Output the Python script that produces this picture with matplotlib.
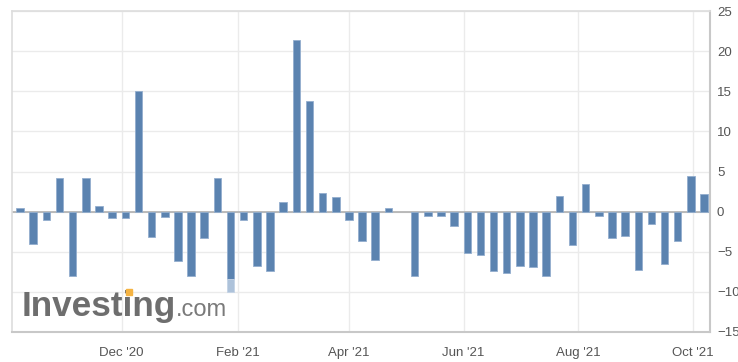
import datetime as dt
import numpy as np
import matplotlib
matplotlib.use("Agg")
import matplotlib.pyplot as plt
import matplotlib.dates as mdates
from matplotlib.patches import Rectangle

plt.rcParams['font.family'] = ['Liberation Sans', 'DejaVu Sans']

# ---- data ----
start_date = dt.date(2020, 10, 8)
values = [0.4, -4.0, -1.1, 4.2, -8.0, 4.2, 0.7, -0.8, -0.8, 15.0,
          -3.2, -0.7, -6.1, -8.0, -3.3, 4.2, -8.4, -1.1, -6.8, -7.4,
          1.2, 21.4, 13.8, 2.3, 1.8, -1.0, -3.6, -6.0, 0.4, np.nan,
          -8.0, -0.5, -0.5, -1.8, -5.2, -5.4, -7.4, -7.7, -6.8, -6.9,
          -8.0, 1.9, -4.1, 3.5, -0.5, -3.3, -3.0, -7.3, -1.6, -6.5,
          -3.6, 4.5, 2.2]
dates = [start_date + dt.timedelta(weeks=i) for i in range(len(values))]
# highlighted (lighter) extension of one bar
highlight_date = dt.date(2021, 1, 28)
highlight_low = -10.0
tick_dates = [dt.date(2020, 12, 1), dt.date(2021, 2, 1), dt.date(2021, 4, 1),
              dt.date(2021, 6, 1), dt.date(2021, 8, 1), dt.date(2021, 10, 1)]
tick_labels = ["Dec '20", "Feb '21", "Apr '21", "Jun '21", "Aug '21", "Oct '21"]
y_ticks = [-15, -10, -5, 0, 5, 10, 15, 20, 25]

W, H = 738, 362
fig = plt.figure(figsize=(W / 100, H / 100), dpi=100)
ax = fig.add_axes([12 / W, (H - 332) / H, (710 - 12) / W, (332 - 11) / H])

bar_color = '#5b83b0'
edge_color = '#93aece'
xs = mdates.date2num(dates)
ax.bar(xs, values, width=4.0, color=bar_color, edgecolor=edge_color,
       linewidth=0.6, zorder=3)
hx = mdates.date2num(highlight_date)
hv = values[dates.index(highlight_date)]
ax.bar([hx], [highlight_low - hv], bottom=[hv], width=4.0, color='#adc2da',
       edgecolor='#c4d3e5', linewidth=0.6, zorder=3)

x0 = mdates.date2num(start_date) - 4.3
x1 = x0 + (710 - 12) / 1.879
ax.set_xlim(x0, x1)
ax.set_ylim(-15, 25)

ax.set_xticks(mdates.date2num(tick_dates))
ax.set_xticklabels(tick_labels)
ax.set_yticks(y_ticks)
ax.yaxis.tick_right()
ax.tick_params(axis='both', length=0, labelsize=9.5, colors='#555555')
ax.tick_params(axis='x', pad=11)
ax.tick_params(axis='y', pad=5)
for lab in ax.get_yticklabels():
    lab.set_horizontalalignment('left')

ax.grid(True, color='#ebebeb', linewidth=1.0, zorder=0)
ax.set_axisbelow(True)
ax.axhline(0, color='#b0b0b0', linewidth=1.2, zorder=2)

for side in ['left', 'top']:
    ax.spines[side].set_color('#dddddd')
    ax.spines[side].set_linewidth(1.2)
for side in ['right', 'bottom']:
    ax.spines[side].set_color('#c8c8c8')
    ax.spines[side].set_linewidth(1.5)

# watermark logo
fig.text(22 / W, (H - 316) / H, "Investing", fontsize=25.3, fontweight='bold',
         color='#6e6e6e', ha='left', va='baseline')
fig.text(176 / W, (H - 316) / H, ".com", fontsize=17, color='#7a7a7a',
         ha='left', va='baseline')
fig.patches.append(Rectangle((126 / W, (H - 295) / H), 6 / W, 6 / H,
                             transform=fig.transFigure, color='#f5b342',
                             zorder=5))

fig.savefig("out.png", dpi=100)
